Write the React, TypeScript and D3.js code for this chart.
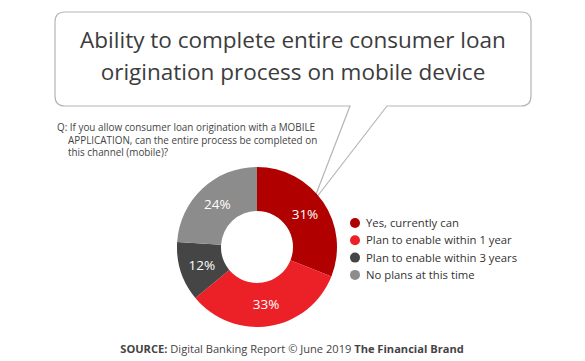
import React, { useEffect, useRef } from "react";
import * as d3 from "d3";

const categories = [
  "Yes, currently can",
  "Plan to enable within 1 year",
  "Plan to enable within 3 years",
  "No plans at this time",
];
const values = [31, 33, 12, 24];
const colors = ["#b00000", "#ec2127", "#454545", "#8c8c8c"];
const titleLines = [
  "Ability to complete entire consumer loan",
  "origination process on mobile device",
];
const questionLines = [
  "Q: If you allow consumer loan origination with a MOBILE",
  "APPLICATION, can the entire process be completed on",
  "this channel (mobile)?",
];

const W = 585;
const H = 361;
const FONT = "'Open Sans', 'Noto Sans', sans-serif";

export default function App() {
  const svgRef = useRef<SVGSVGElement>(null);

  useEffect(() => {
    const svg = d3.select(svgRef.current);
    svg.selectAll("*").remove();

    svg.append("rect").attr("width", W).attr("height", H).attr("fill", "#fff");

    // speech bubble with tail pointing into the first slice
    svg
      .append("path")
      .attr(
        "d",
        "M65,12 H521 Q531,12 531,22 V96 Q531,106 521,106 H387 L313,202 L350,106 H65 Q55,106 55,96 V22 Q55,12 65,12 Z"
      )
      .attr("fill", "#fff")
      .attr("stroke", "#b5b5b5")
      .attr("stroke-width", 1.2);

    svg
      .append("g")
      .selectAll("text")
      .data(titleLines)
      .enter()
      .append("text")
      .attr("x", 293)
      .attr("y", (d, i) => 48 + i * 32)
      .attr("text-anchor", "middle")
      .attr("fill", "#3c3c3c")
      .style("font-family", FONT)
      .style("font-weight", 400)
      .style("font-size", "22.5px")
      .text((d) => d);

    // question
    svg
      .append("g")
      .selectAll("text")
      .data(questionLines)
      .enter()
      .append("text")
      .attr("x", (d, i) => (i === 0 ? 57 : 68))
      .attr("y", (d, i) => 131 + i * 12.5)
      .attr("fill", "#444")
      .style("font-family", FONT)
      .style("font-size", "9.9px")
      .text((d) => d);

    // donut
    const cx = 257;
    const cy = 247;
    const pie = d3.pie<number>().sort(null).value((d) => d);
    const arcs = pie(values);
    const arc = d3.arc<d3.PieArcDatum<number>>().innerRadius(36).outerRadius(80);
    const labelArc = d3.arc<d3.PieArcDatum<number>>().innerRadius(58).outerRadius(58);

    const g = svg.append("g").attr("transform", `translate(${cx},${cy})`);
    g.selectAll("path")
      .data(arcs)
      .enter()
      .append("path")
      .attr("d", arc)
      .attr("fill", (d, i) => colors[i]);

    g.selectAll("text")
      .data(arcs)
      .enter()
      .append("text")
      .attr("transform", (d) => `translate(${labelArc.centroid(d)})`)
      .attr("dy", "0.35em")
      .attr("text-anchor", "middle")
      .attr("fill", "#fff")
      .style("font-family", FONT)
      .style("font-size", "13.5px")
      .text((d) => `${d.data}%`);

    // legend
    const legend = svg.append("g").attr("transform", "translate(355,223)");
    const rows = legend
      .selectAll("g")
      .data(categories)
      .enter()
      .append("g")
      .attr("transform", (d, i) => `translate(0,${i * 17.3})`);
    rows.append("circle").attr("r", 5).attr("fill", (d, i) => colors[i]);
    rows
      .append("text")
      .attr("x", 11)
      .attr("dy", "0.35em")
      .attr("fill", "#333")
      .style("font-family", FONT)
      .style("font-size", "11.3px")
      .text((d) => d);

    // source
    const src = svg
      .append("text")
      .attr("x", 292)
      .attr("y", 353)
      .attr("text-anchor", "middle")
      .attr("fill", "#444")
      .style("font-family", FONT)
      .style("font-size", "11.1px");
    src.append("tspan").style("font-weight", 700).text("SOURCE:");
    src.append("tspan").text(" Digital Banking Report © June 2019 ");
    src.append("tspan").style("font-weight", 700).text("The Financial Brand");
  }, []);

  return (
    <div style={{ position: "absolute", left: 0, top: 0 }}>
      <svg ref={svgRef} width={W} height={H} style={{ display: "block" }}></svg>
    </div>
  );
}
